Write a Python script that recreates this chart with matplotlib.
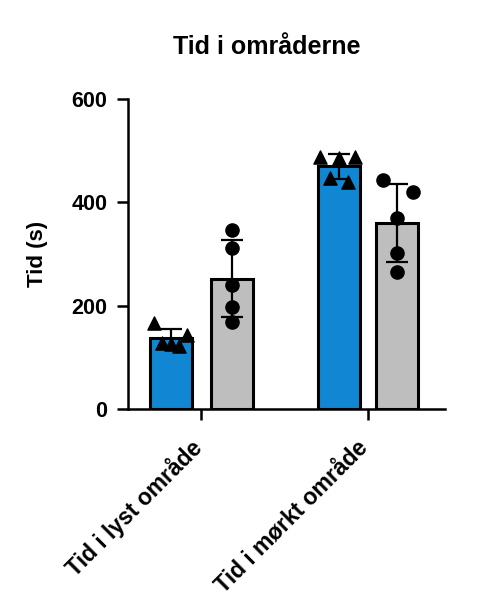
import numpy as np
import matplotlib
matplotlib.use("Agg")
import matplotlib.pyplot as plt
from matplotlib.transforms import ScaledTranslation

plt.rcParams["font.family"] = ["Liberation Sans", "DejaVu Sans"]
plt.rcParams["font.weight"] = "bold"

groups = ["Tid i lyst område", "Tid i mørkt område"]
blue_vals = [
    [166, 143, 125, 128, 122],
    [488, 486, 488, 448, 440],
]
gray_vals = [
    [346, 311, 240, 197, 168],
    [443, 420, 369, 302, 265],
]
blue_jitter = [
    [-0.28, 0.26, 0.0, -0.14, 0.14],
    [-0.30, 0.0, 0.27, -0.15, 0.15],
]
gray_jitter = [
    [0, 0, 0, 0, 0],
    [-0.23, 0.26, 0, 0, 0],
]

BLUE = "#1187D4"
GRAY = "#BEBEBE"
pos_blue = [0.0, 2.75]
pos_gray = [1.0, 3.70]
width = 0.69

fig = plt.figure(figsize=(4.93, 6.0), dpi=100)
ax = fig.add_axes([128 / 493, 1 - 409 / 600, 317 / 493, 310 / 600])


def draw_bar(x, vals, color, marker, jit):
    vals = np.array(vals, dtype=float)
    m = vals.mean()
    sd = vals.std(ddof=1)
    ax.bar(x, m, width=width, color=color, edgecolor="black", linewidth=2.2, zorder=2)
    ax.errorbar(x, m, yerr=sd, fmt="none", ecolor="black", elinewidth=1.6,
                capsize=8, capthick=1.6, zorder=3)
    ax.scatter(x + np.array(jit), vals, marker=marker, s=90, color="black", zorder=4)


for i in range(len(groups)):
    draw_bar(pos_blue[i], blue_vals[i], BLUE, "^", blue_jitter[i])
    draw_bar(pos_gray[i], gray_vals[i], GRAY, "o", gray_jitter[i])

ax.set_xlim(-0.70, 4.49)
ax.set_ylim(0, 600)
ax.set_yticks([0, 200, 400, 600])
ax.set_xticks([(pos_blue[i] + pos_gray[i]) / 2 for i in range(len(groups))])
ax.set_xticklabels(groups, rotation=45, ha="right", rotation_mode="anchor",
                   fontsize=16.5, fontweight="bold")
ax.tick_params(axis="y", labelsize=15.5, width=1.8, length=8, pad=7)
ax.tick_params(axis="x", width=1.8, length=8, pad=6)
for t in ax.get_yticklabels():
    t.set_fontweight("bold")
shift = ScaledTranslation(-0.12, -0.07, fig.dpi_scale_trans)
for t in ax.get_xticklabels():
    t.set_transform(t.get_transform() + shift)

for s in ["top", "right"]:
    ax.spines[s].set_visible(False)
for s in ["left", "bottom"]:
    ax.spines[s].set_linewidth(1.8)

ax.set_ylabel("Tid (s)", fontsize=16, fontweight="bold")
ax.yaxis.set_label_coords(-0.252, 0.5)
fig.text(267 / 493, 1 - 47 / 600, "Tid i områderne", ha="center", va="center",
         fontsize=18, fontweight="bold")

fig.savefig("out.png", dpi=100)
